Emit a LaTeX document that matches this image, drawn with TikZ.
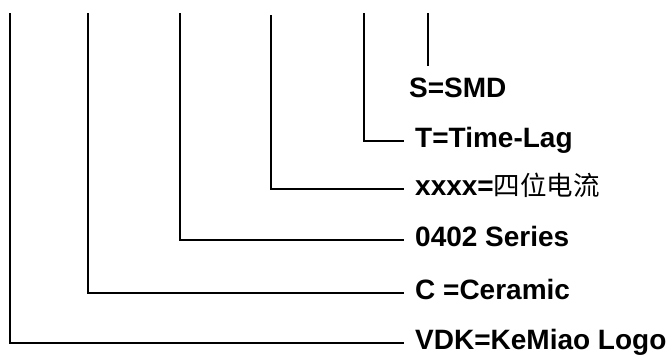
\documentclass[tikz,border=0pt]{standalone}
\usepackage{fontspec}
\setmainfont{Liberation Sans}
\newfontfamily\cjk{Noto Sans CJK SC}
\usetikzlibrary{positioning}

\begin{document}
\begin{tikzpicture}[x=1bp,y=-1bp,
      code/.style={anchor=west,inner xsep=11bp,inner ysep=11bp,
                   text height=20bp,text depth=8bp,
                   font=\fontsize{28bp}{31bp}\selectfont\bfseries},
      lead/.style={line width=2.2bp,black}]
    \useasboundingbox (0,0) rectangle (669,354);
    % tops of the six leads
    \coordinate (tV) at (10,13);
    \coordinate (tC) at (88,13);
    \coordinate (tSer) at (180,13);
    \coordinate (tX) at (271,15);
    \coordinate (tT) at (364,13);
    \coordinate (tS) at (428,13);
    \node[code] (smd)  at (398,91)  {S=SMD};
    \node[code] (lag)  at (404,141) {T=Time-Lag};
    \node[code] (amp)  at (404,189) {xxxx={\cjk\mdseries\fontsize{26.5bp}{30bp}\selectfont 四位电流}};
    \node[code] (ser)  at (404,240) {0402 Series};
    \node[code] (cer)  at (404,293) {C =Ceramic};
    \node[code] (logo) at (404,343) {VDK=KeMiao Logo};
    \draw[lead] (tS) -- (tS |- smd.north);
    \draw[lead] (tT) |- (lag.west); \draw[lead] (tX) |- (amp.west);
    \draw[lead] (tSer) |- (ser.west); \draw[lead] (tC) |- (cer.west);
    \draw[lead] (tV) |- (logo.west);
  \end{tikzpicture}
\end{document}
